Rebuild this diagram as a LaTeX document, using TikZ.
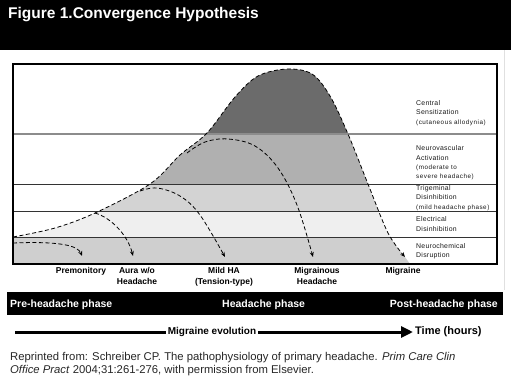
\documentclass[tikz,border=0pt]{standalone}
\usepackage{fontspec}
\setmainfont{Liberation Sans}
\usetikzlibrary{arrows.meta}
\definecolor{bandcs}{HTML}{6B6B6B}
\definecolor{bandnv}{HTML}{B0B0B0}
\definecolor{bandtd}{HTML}{D3D3D3}
\definecolor{bandel}{HTML}{EFEFEF}
\definecolor{bandnc}{HTML}{CFCFCF}
\newcommand\smalltxt{\fontsize{6.3}{9.3}\selectfont\addfontfeature{LetterSpace=8}}

\begin{document}
\begin{tikzpicture}
[x=1pt,y=-1pt,
dashline/.style={black,line width=0.8pt,dash pattern=on 4pt off 2.5pt,-{Stealth[length=5pt,width=4pt]}},
layer/.style={font=\fontsize{6.9}{9.3}\selectfont\addfontfeature{LetterSpace=4},text=black!90,anchor=west,align=left,inner sep=0pt},
stage/.style={font=\fontsize{8.5}{11.5}\selectfont\bfseries,anchor=north,align=center,inner sep=0pt},
phase/.style={white,font=\fontsize{10.5}{12}\selectfont\bfseries,inner sep=0pt},
]
\useasboundingbox (0,0) rectangle (511,388);

% header
\fill[black] (0,0) rectangle (511,50);
\node[white,anchor=base west,font=\fontsize{15.5}{17}\selectfont\bfseries,inner sep=0pt] (title) at (8,18.5) {Figure 1.Convergence Hypothesis};
\draw[black!12,line width=0.8pt] (504,50) -- (504,290);

% shaded area under the envelope
\begin{scope}
\clip plot[smooth,tension=0.55] coordinates {(13,237) (55,228) (95,213) (150,184) (180,155) (207,133) (235,97) (258,76) (287,69) (312,74) (330,96) (348,134) (368,184) (388,233) (405,257)} -- (410,264) -- (13,264) -- cycle;
\fill[bandcs] (13,64) rectangle (497,134);
\fill[bandnv] (13,134) rectangle (497,184);
\fill[bandtd] (13,184) rectangle (497,211);
\fill[bandel] (13,211) rectangle (497,237);
\fill[bandnc] (13,237) rectangle (497,264);
\end{scope}

% band borders
\draw[black!45,line width=1.1pt] (13,134) -- (497,134);
\foreach \y in {184,211,237}
  \draw[black!80,line width=0.9pt] (13,\y) -- (497,\y);
\draw[line width=1.2pt] (13,64) rectangle (497,264);

% dashed courses
\draw[dashline] plot[smooth,tension=0.55] coordinates {(13,237) (55,228) (95,213) (150,184) (180,155) (207,133) (235,97) (258,76) (287,69) (312,74) (330,96) (348,134) (368,184) (388,233) (405,257)};
\draw[dashline] (13,243) .. controls (62,241) and (78,246) .. (82,256);
\draw[dashline] (95,213) .. controls (112,218) and (128,236) .. (133,256);
\draw[dashline] plot[smooth,tension=0.6] coordinates {(140,191) (157,188) (180,196) (200,215) (225,257)};
\draw[dashline] plot[smooth,tension=0.6] coordinates {(187,153) (205,142) (228,139) (255,146) (278,168) (297,205) (313,257)};

% layer labels
\node[layer] (central) at (416,113) {Central\\Sensitization\\{\smalltxt(cutaneous allodynia)}};
\node[layer] (neurovasc) at (416,163) {Neurovascular\\Activation\\{\smalltxt(moderate to}\\{\smalltxt severe headache)}};
\node[layer] (trigem) at (416,198) {Trigeminal\\Disinhibition\\{\smalltxt(mild headache phase)}};
\node[layer] (electric) at (416,224) {Electrical\\Disinhibition};
\node[layer] (neurochem) at (416,251) {Neurochemical\\Disruption};

% outcome labels
\node[stage] (premon) at (81,267) {Premonitory};
\node[stage] (aura) at (137,267) {Aura w/o\\Headache};
\node[stage] (mild) at (224,267) {Mild HA\\(Tension-type)};
\node[stage] (migrainous) at (317,267) {Migrainous\\Headache};
\node[stage] (migraine) at (403,267) {Migraine};

% phases
\fill[black] (7,292) rectangle (503,315);
\node[phase,anchor=base west] (pre) at (10,307.5) {Pre-headache phase};
\node[phase,anchor=base west] (during) at (222,307.5) {Headache phase};
\node[phase,anchor=base east] (post) at (498,307.5) {Post-headache phase};

% time axis
\coordinate (axisstart) at (15,332);
\node[font=\fontsize{10}{11}\selectfont\bfseries,inner sep=2pt] (evo) at (212,332) {Migraine evolution};
\node[font=\fontsize{11}{12}\selectfont\bfseries,inner sep=2pt,anchor=west] (time) at (413,332) {Time (hours)};
\draw[line width=3pt] (axisstart) -- (evo.west);
\draw[line width=3pt,-{Triangle[length=12pt,width=11pt]}] (evo.east) -- (time.west);

% source
\node[anchor=base west,align=left,font=\fontsize{11.3}{13}\selectfont,text=black!85,inner sep=0pt] (source) at (10,373) {Reprinted from: Schreiber CP. The pathophysiology of primary headache. \textit{Prim Care Clin}\\\textit{Office Pract} 2004;31:261-276, with permission from Elsevier.};
\end{tikzpicture}
\end{document}
